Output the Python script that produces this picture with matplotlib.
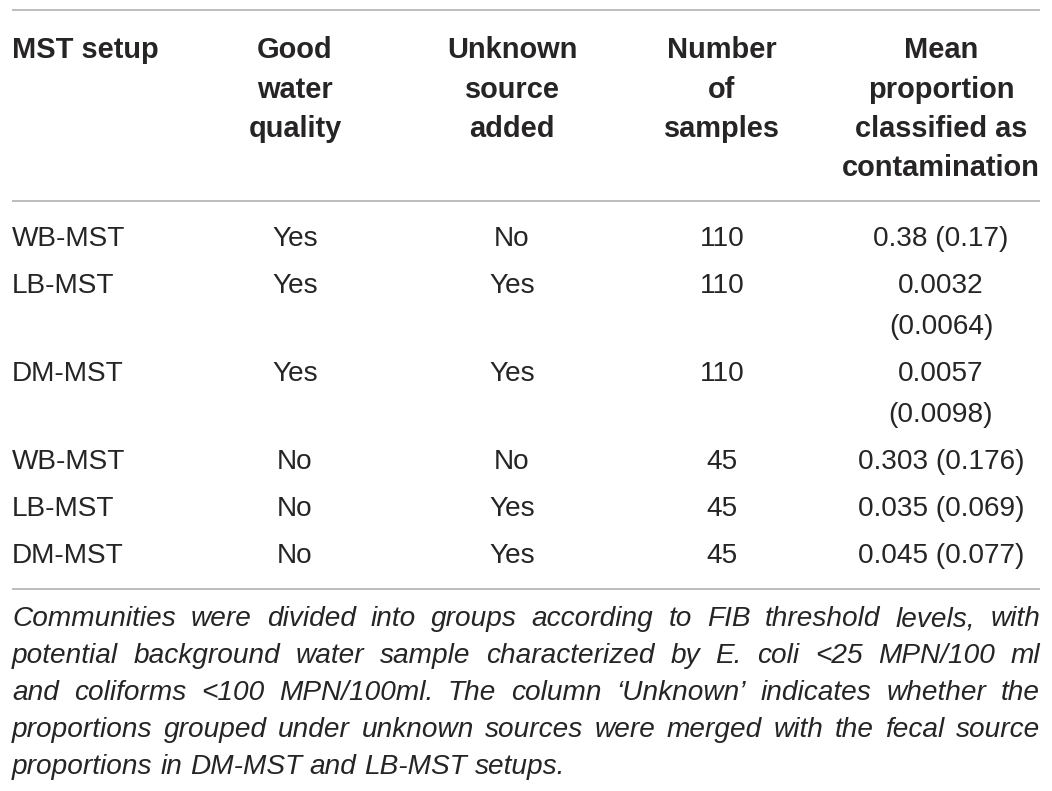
import matplotlib
matplotlib.use('Agg')
import matplotlib.pyplot as plt

# table content
header = [
    ['MST setup'],
    ['Good', 'water', 'quality'],
    ['Unknown', 'source', 'added'],
    ['Number', 'of', 'samples'],
    ['Mean', 'proportion', 'classified as', 'contamination'],
]
setups = ['WB-MST', 'LB-MST', 'DM-MST', 'WB-MST', 'LB-MST', 'DM-MST']
good_water = ['Yes', 'Yes', 'Yes', 'No', 'No', 'No']
unknown_added = ['No', 'Yes', 'Yes', 'No', 'Yes', 'Yes']
n_samples = [110, 110, 110, 45, 45, 45]
mean_prop = [
    ['0.38 (0.17)'],
    ['0.0032', '(0.0064)'],
    ['0.0057', '(0.0098)'],
    ['0.303 (0.176)'],
    ['0.035 (0.069)'],
    ['0.045 (0.077)'],
]
caption = [
    'Communities were divided into groups according to FIB threshold levels, with',
    'potential background water sample characterized by E. coli <25 MPN/100 ml',
    'and coliforms <100 MPN/100ml. The column \u2018Unknown\u2019 indicates whether the',
    'proportions grouped under unknown sources were merged with the fecal source',
    'proportions in DM-MST and LB-MST setups.',
]

W, H = 1052, 791
fig = plt.figure(figsize=(W / 100, H / 100), dpi=100)
ax = fig.add_axes([0, 0, 1, 1])
ax.set_xlim(0, W)
ax.set_ylim(H, 0)
ax.axis('off')

plt.rcParams['font.family'] = ['Liberation Sans', 'DejaVu Sans']
txt_col = '#262425'
rule_col = '#b1b1b1'
left, right = 12, 1040
col_x = [left, 295, 512, 722, 941]
px = 72 / 100
head_fs = 29 * px
body_fs = 28 * px
dy = 3  # va='center' sits a little high, nudge down

# rules
for y in [10, 201, 589]:
    ax.plot([left, right], [y, y], color=rule_col, lw=1.2, solid_capstyle='butt')

# header
for i, lines in enumerate(header):
    for j, s in enumerate(lines):
        ax.text(col_x[i], 47 + dy + 39.5 * j, s, fontsize=head_fs, fontweight='bold',
                color=txt_col, ha='left' if i == 0 else 'center', va='center')

# body rows
y = 236
for r in range(len(setups)):
    cells = [[setups[r]], [good_water[r]], [unknown_added[r]], [str(n_samples[r])], mean_prop[r]]
    for i, lines in enumerate(cells):
        for j, s in enumerate(lines):
            ax.text(col_x[i], y + dy + 41 * j, s, fontsize=body_fs, color=txt_col,
                    ha='left' if i == 0 else 'center', va='center')
    y += 47 + 41 * (len(mean_prop[r]) - 1)

# caption, justified
fig.canvas.draw()
renderer = fig.canvas.get_renderer()
cap_fs = 28 * px
space_w = None
for k, line in enumerate(caption):
    cy = 616 + dy + 37 * k
    words = line.split(' ')
    items = []
    for w in words:
        t = ax.text(0, cy, w, fontsize=cap_fs, fontstyle='italic', color=txt_col,
                    ha='left', va='center')
        bb = t.get_window_extent(renderer)
        items.append((t, bb.width))
    if space_w is None:
        t = ax.text(0, cy, 'a a', fontsize=cap_fs, fontstyle='italic')
        t2 = ax.text(0, cy, 'aa', fontsize=cap_fs, fontstyle='italic')
        space_w = t.get_window_extent(renderer).width - t2.get_window_extent(renderer).width
        t.remove()
        t2.remove()
    total = sum(wd for _, wd in items)
    if k < len(caption) - 1:
        gap = (right - left - total) / (len(items) - 1)
    else:
        gap = space_w
    x = left
    for t, wd in items:
        t.set_x(x)
        x += wd + gap

fig.savefig('out.png', dpi=100)
